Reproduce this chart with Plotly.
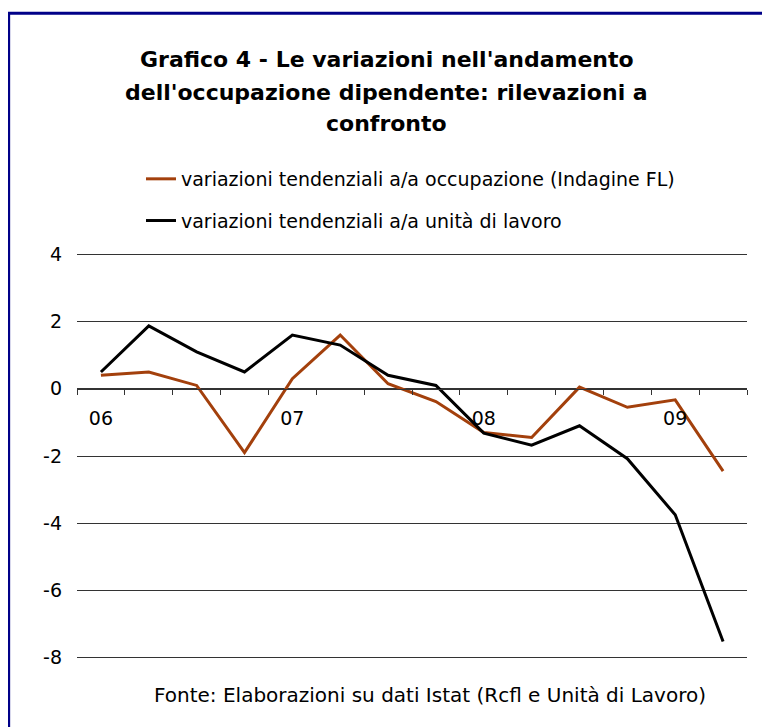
import plotly.graph_objects as go

quarters = ["06-I", "06-II", "06-III", "06-IV",
            "07-I", "07-II", "07-III", "07-IV",
            "08-I", "08-II", "08-III", "08-IV",
            "09-I", "09-II"]
year_labels = ["06", "07", "08", "09"]
year_label_idx = [0, 4, 8, 12]
y_tickvals = [4, 2, 0, -2, -4, -6, -8]
y_ticktext = ["4", "2", "0", "-2", "-4", "-6", "-8"]

occupazione_fl = [0.4, 0.5, 0.1, -1.9, 0.3, 1.6, 0.15, -0.38, -1.3, -1.45, 0.05, -0.55, -0.33, -2.45]
unita_lavoro = [0.5, 1.87, 1.1, 0.5, 1.6, 1.3, 0.4, 0.1, -1.32, -1.68, -1.1, -2.08, -3.75, -7.52]

name_fl = "variazioni tendenziali a/a occupazione (Indagine FL)"
name_ul = "variazioni tendenziali a/a unità di lavoro"

x = list(range(len(quarters)))
FONT = "DejaVu Sans, Liberation Sans, Arial, sans-serif"

fig = go.Figure()
fig.add_trace(go.Scatter(x=x, y=occupazione_fl, mode="lines", name=name_fl,
                         line=dict(color="#A3400C", width=3), legendgroup="a",
                         hovertext=quarters))
fig.add_trace(go.Scatter(x=x, y=unita_lavoro, mode="lines", name=name_ul,
                         line=dict(color="#000000", width=3), legendgroup="b",
                         hovertext=quarters))

ymin, ymax = -8.1, 4.1
fig.update_layout(
    width=762, height=719,
    margin=dict(l=69, r=23, t=243, b=66),
    paper_bgcolor="white", plot_bgcolor="white",
    font=dict(family=FONT, color="#000000", size=19),
    showlegend=True,
    legend=dict(x=0.0955, y=1.222, xanchor="left", yanchor="top",
                font=dict(size=19, family=FONT), tracegroupgap=14,
                bgcolor="rgba(0,0,0,0)", traceorder="grouped"),
    xaxis=dict(range=[-0.5, len(quarters) - 0.5], anchor="free",
               position=(0 - ymin) / (ymax - ymin),
               showline=True, linecolor="#333333", linewidth=1,
               showgrid=False, zeroline=False,
               tickmode="array", tickvals=year_label_idx, ticktext=year_labels,
               ticks="outside", ticklen=12, tickcolor="rgba(0,0,0,0)",
               tickfont=dict(size=19),
               minor=dict(tickmode="linear", tick0=-0.5, dtick=1, ticks="outside",
                          ticklen=5, tickcolor="#333333", showgrid=False)),
    yaxis=dict(range=[ymin, ymax], tickmode="array",
               tickvals=y_tickvals, ticktext=y_ticktext,
               showgrid=True, gridcolor="#333333", gridwidth=1,
               zeroline=False, showline=False, ticks="",
               ticklabelstandoff=14, tickfont=dict(size=19)),
)

title_lines = ["Grafico 4 - Le variazioni nell'andamento",
               "dell'occupazione dipendente: rilevazioni a",
               "confronto"]
title_y = [1.4659, 1.3878, 1.3098]
for t, yy in zip(title_lines, title_y):
    fig.add_annotation(text="<b>" + t + "</b>", xref="paper", yref="paper",
                       x=0.462, y=yy, xanchor="center", yanchor="middle",
                       showarrow=False, font=dict(size=22, family=FONT))

fig.add_annotation(text="Fonte: Elaborazioni su dati Istat (Rcfl e Unità di Lavoro)",
                   xref="paper", yref="paper", x=0.527, y=-0.083,
                   xanchor="center", yanchor="middle", showarrow=False,
                   font=dict(size=20, family=FONT))

fig.add_shape(type="rect", xref="paper", yref="paper",
              x0=-0.102, y0=-0.3, x1=1.2, y1=1.58,
              line=dict(color="#000088", width=3), fillcolor="rgba(0,0,0,0)",
              layer="above")

fig.write_html("out.html")
